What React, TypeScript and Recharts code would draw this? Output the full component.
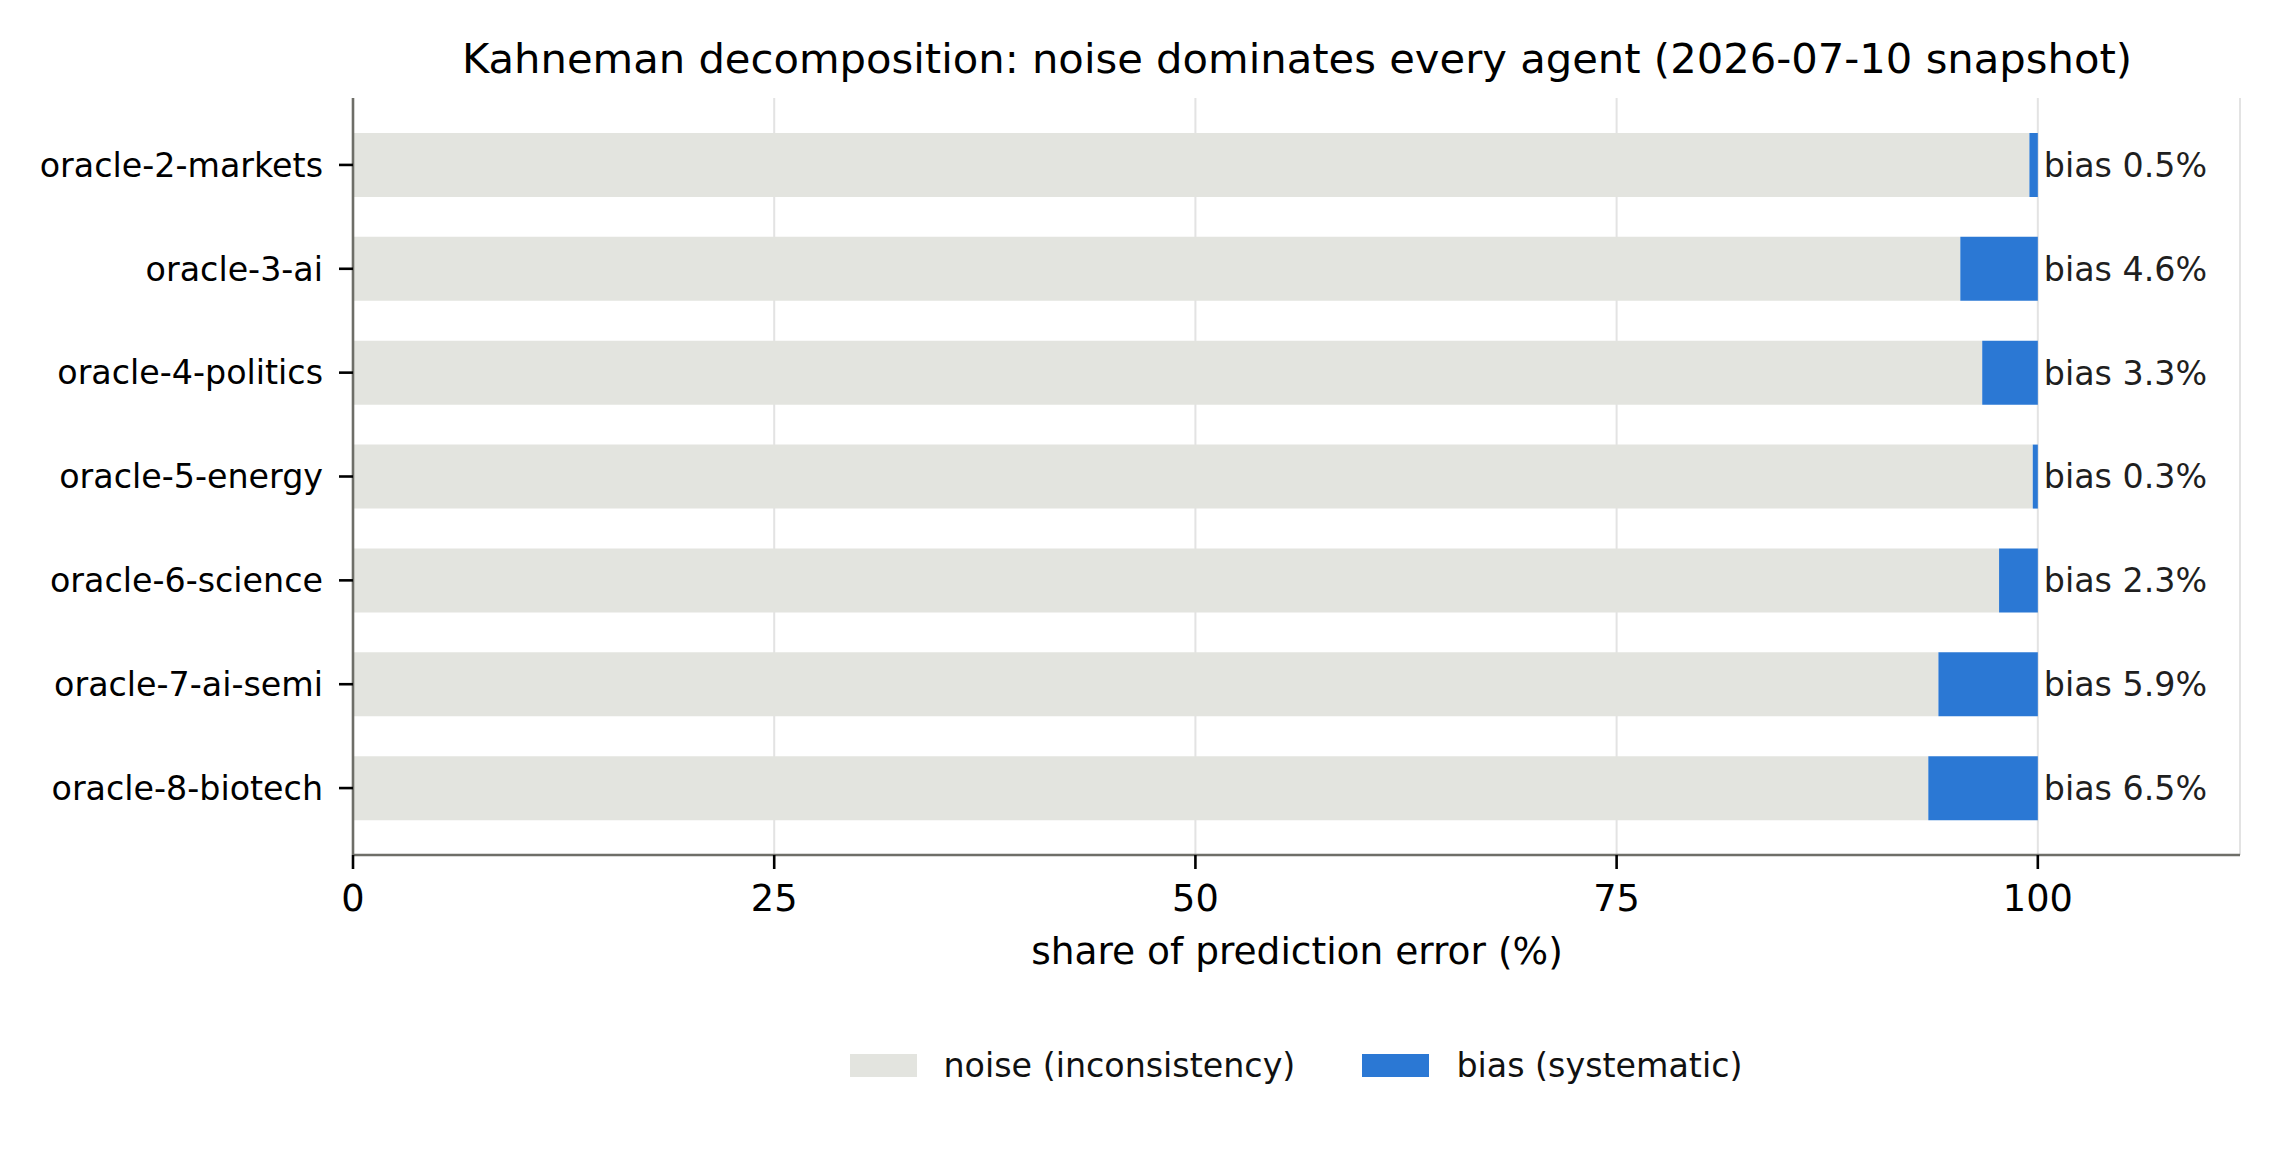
import { Bar, BarChart, CartesianGrid, LabelList, Legend, XAxis, YAxis } from "recharts";

const agents = [
	"oracle-2-markets",
	"oracle-3-ai",
	"oracle-4-politics",
	"oracle-5-energy",
	"oracle-6-science",
	"oracle-7-ai-semi",
	"oracle-8-biotech",
];
const biasShare = [0.5, 4.6, 3.3, 0.3, 2.3, 5.9, 6.5];
const noiseShare = [99.5, 95.4, 96.7, 99.7, 97.7, 94.1, 93.5];
const xTicks = [0, 25, 50, 75, 100];

const NOISE_COLOR = "#e3e4df";
const BIAS_COLOR = "#2b78d4";
const SPINE = "#6e6e68";
const FONT = "'DejaVu Sans', sans-serif";

const rows = agents.map((name, i) => ({ name, noise: noiseShare[i], bias: biasShare[i] }));

const legendItems = [
	{ label: "noise (inconsistency)", color: NOISE_COLOR },
	{ label: "bias (systematic)", color: BIAS_COLOR },
];

function LegendBox() {
	return (
		<div
			style={{
				display: "flex",
				justifyContent: "center",
				alignItems: "center",
				height: 60,
				fontFamily: FONT,
				fontSize: 33.3,
				color: "#111",
			}}
		>
			{legendItems.map((it, i) => (
				<div key={it.label} style={{ display: "flex", alignItems: "center", marginLeft: i ? 67 : 0 }}>
					<div style={{ width: 67, height: 23, background: it.color, marginRight: 27 }} />
					<span style={{ whiteSpace: "nowrap" }}>{it.label}</span>
				</div>
			))}
		</div>
	);
}

export default function App() {
	return (
		<div style={{ width: 2280, height: 1170, fontFamily: FONT }}>
			<style>{"body{margin:0}"}</style>
			<BarChart
				width={2280}
				height={1170}
				data={rows}
				layout="vertical"
				margin={{ top: 98, right: 40, bottom: 195, left: 0 }}
			>
				<CartesianGrid horizontal={false} stroke="#e3e3e3" strokeWidth={2} />
				<XAxis
					type="number"
					domain={[0, 112]}
					ticks={xTicks}
					height={120}
					axisLine={{ stroke: SPINE, strokeWidth: 2.6 }}
					tickLine={{ stroke: "#000", strokeWidth: 2.6 }}
					tickSize={14}
					tickMargin={16}
					tick={{ fontSize: 36.7, fill: "#000", fontFamily: FONT }}
				/>
				<YAxis
					type="category"
					dataKey="name"
					width={353}
					padding={{ top: 15, bottom: 15 }}
					axisLine={{ stroke: SPINE, strokeWidth: 2.6 }}
					tickLine={{ stroke: "#000", strokeWidth: 2.6 }}
					tickSize={14}
					tickMargin={16}
					tick={{ fontSize: 33.3, fill: "#000", fontFamily: FONT }}
				/>
				<Bar
					dataKey="noise"
					stackId="a"
					name="noise (inconsistency)"
					fill={NOISE_COLOR}
					barSize={64}
					isAnimationActive={false}
				/>
				<Bar
					dataKey="bias"
					stackId="a"
					name="bias (systematic)"
					fill={BIAS_COLOR}
					barSize={64}
					isAnimationActive={false}
				>
					<LabelList
						dataKey="bias"
						position="right"
						offset={6}
						formatter={(v: any) => `bias ${Number(v).toFixed(1)}%`}
						style={{ fontSize: 33.3, fill: "#1f1f1f", fontFamily: FONT }}
					/>
				</Bar>
				<Legend
					layout="horizontal"
					verticalAlign="middle"
					align="center"
					wrapperStyle={{ top: 1035, left: 356, width: 1880, height: 60 }}
					content={() => <LegendBox />}
				/>
				<text x={1297} y={73} textAnchor="middle" fontSize={41.7} fontFamily={FONT} fill="#000">
					Kahneman decomposition: noise dominates every agent (2026-07-10 snapshot)
				</text>
				<text x={1297} y={964} textAnchor="middle" fontSize={37.5} fontFamily={FONT} fill="#000">
					share of prediction error (%)
				</text>
			</BarChart>
		</div>
	);
}
